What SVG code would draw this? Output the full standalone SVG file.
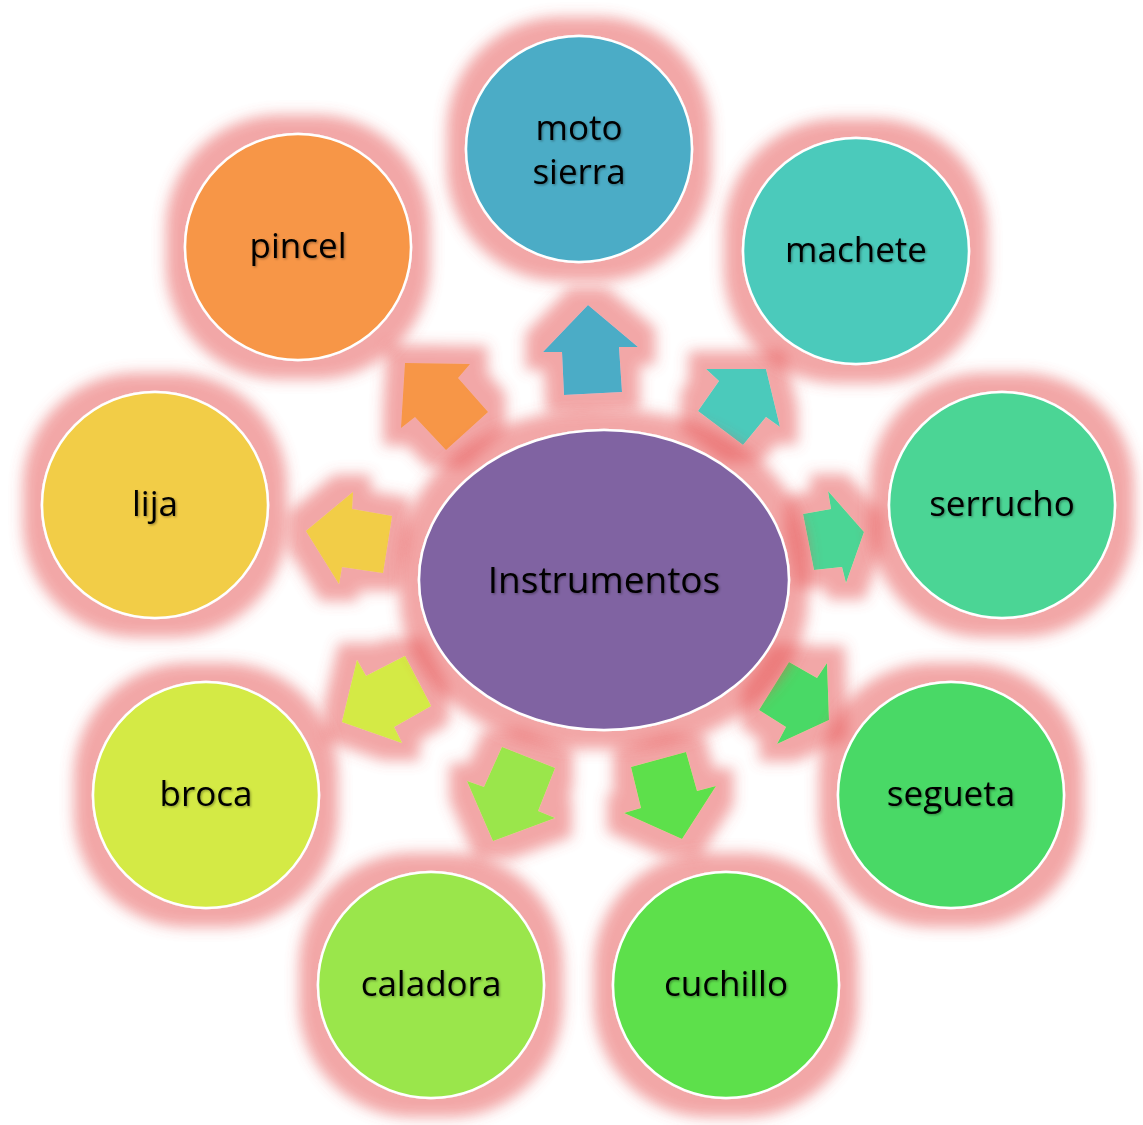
<svg xmlns="http://www.w3.org/2000/svg" width="1143" height="1125" viewBox="0 0 1143 1125">
<defs>
<filter id="glow" x="-50%" y="-50%" width="200%" height="200%">
<feMorphology in="SourceAlpha" operator="dilate" radius="18" result="d"/>
<feGaussianBlur in="d" stdDeviation="7" result="b"/>
<feFlood flood-color="#E65050" flood-opacity="0.5"/>
<feComposite in2="b" operator="in" result="g"/>
<feMerge><feMergeNode in="g"/><feMergeNode in="SourceGraphic"/></feMerge>
</filter>
<filter id="ts" x="-10%" y="-20%" width="120%" height="140%">
<feDropShadow dx="1.2" dy="1.2" stdDeviation="1" flood-color="#000" flood-opacity="0.35"/>
</filter>
</defs>
<style>
.n{stroke:#fff;stroke-width:2.5;filter:url(#glow)}
.a{filter:url(#glow)}
.t{font-family:"Open Sans","Noto Sans",sans-serif;font-size:35px;fill:#000;text-anchor:middle;filter:url(#ts)}
.c{font-size:37px}
</style>
<rect width="1143" height="1125" fill="#fff"/>
<g id="connectors">
<polygon class="a" fill="#4BACC6" points="588,305 638,347 619,347 622,392 564,395 562,352 543,352"/>
<polygon class="a" fill="#4BCABB" points="766,369 780,427 766,417 743,445 698,411 719,381 706,369"/>
<polygon class="a" fill="#4BD595" points="803,514 831,509 828,491 864,532 846,583 842,567 814,570"/>
<polygon class="a" fill="#48D966" points="789,662 817,678 827,663 829,720 777,744 786,727 759,710"/>
<polygon class="a" fill="#5DE04B" points="631,767 686,752 697,791 716,786 682,839 624,813 641,808"/>
<polygon class="a" fill="#9AE64B" points="502,747 555,768 538,811 555,818 493,841 467,781 484,787"/>
<polygon class="a" fill="#D4EA45" points="342,722 357,660 366,676 405,656 431,706 394,727 402,743"/>
<polygon class="a" fill="#F2CD47" points="306,531 353,492 352,509 392,516 383,573 342,567 339,584"/>
<polygon class="a" fill="#F79646" points="405,363 470,364 458,378 488,412 446,450 415,417 401,428"/>
</g>
<g id="center">
<ellipse class="n" cx="604" cy="580" rx="185" ry="150" fill="#8064A2"/>
<text class="t c" x="604" y="593">Instrumentos</text>
</g>
<g id="moto-sierra">
<circle class="n" cx="579" cy="149" r="113" fill="#4BACC6"/>
<text class="t" x="579" y="140">moto</text>
<text class="t" x="579" y="184">sierra</text>
</g>
<g id="machete">
<circle class="n" cx="856" cy="251" r="113" fill="#4BCABB"/>
<text class="t" x="856" y="262">machete</text>
</g>
<g id="serrucho">
<circle class="n" cx="1002" cy="505" r="113" fill="#4BD595"/>
<text class="t" x="1002" y="516">serrucho</text>
</g>
<g id="segueta">
<circle class="n" cx="951" cy="795" r="113" fill="#48D966"/>
<text class="t" x="951" y="806">segueta</text>
</g>
<g id="cuchillo">
<circle class="n" cx="726" cy="985" r="113" fill="#5DE04B"/>
<text class="t" x="726" y="996">cuchillo</text>
</g>
<g id="caladora">
<circle class="n" cx="431" cy="985" r="113" fill="#9AE64B"/>
<text class="t" x="431" y="996">caladora</text>
</g>
<g id="broca">
<circle class="n" cx="206" cy="795" r="113" fill="#D4EA45"/>
<text class="t" x="206" y="806">broca</text>
</g>
<g id="lija">
<circle class="n" cx="155" cy="505" r="113" fill="#F2CD47"/>
<text class="t" x="155" y="516">lija</text>
</g>
<g id="pincel">
<circle class="n" cx="298" cy="247" r="113" fill="#F79646"/>
<text class="t" x="298" y="258">pincel</text>
</g>
</svg>
